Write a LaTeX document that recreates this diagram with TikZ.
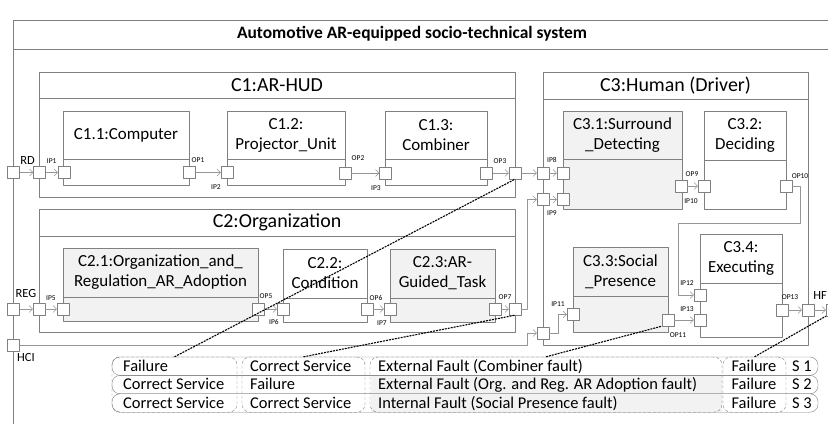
\documentclass[tikz,border=0pt]{standalone}
\usepackage{fontspec}
\setmainfont{Carlito}
\usepackage{tikz}
\usetikzlibrary{arrows.meta}
\definecolor{boxgray}{RGB}{128,128,128}
\definecolor{wiregray}{RGB}{150,150,150}
\definecolor{shadegray}{RGB}{242,242,242}

\begin{document}
\begin{tikzpicture}[>={Straight Barb[length=3.5bp,width=7bp]},line join=bevel,
  big/.style={draw=boxgray,inner sep=0pt,font=\fontsize{20}{22}\selectfont},
  comp/.style={draw=boxgray,inner sep=0pt,align=center,font=\fontsize{17}{20}\selectfont},
  body/.style={draw=boxgray,inner sep=0pt},
  shaded/.style={fill=shadegray},
  port/.style={draw=boxgray,fill=white,minimum size=12bp,inner sep=0pt},
  plbl/.style={inner sep=0pt,font=\fontsize{7.5}{8}\selectfont},
  sig/.style={inner sep=0pt,font=\fontsize{12.5}{14}\selectfont},
  wire/.style={wiregray,->},
  fault/.style={black,dash pattern=on 2bp off 1bp,line width=1.1bp},
  row/.style={draw=boxgray,rounded corners=8bp,inner sep=0pt},
  col/.style={draw=boxgray,dash pattern=on 3bp off 2bp,rounded corners=8bp,inner sep=0pt},
  cell/.style={inner sep=0pt,font=\fontsize{16.5}{18}\selectfont},
]
\useasboundingbox (0bp,0bp) rectangle (828bp,424bp);
%% system frame
\draw [boxgray] (13bp,-5bp) -- (13bp,404bp) -- (840bp,404bp);
\draw [boxgray] (13bp,375bp) -- (840bp,375bp);
\node (node_sys) at (412bp,390bp) [font=\bfseries\fontsize{17.5}{20}\selectfont] {Automotive AR-equipped socio-technical system};
%% C1
\node (node_c1) at (277bp,339bp) [big,minimum width=476bp,minimum height=26bp] {C1:AR-HUD};
\node (node_c1_body) at (277bp,276.5bp) [body,minimum width=476bp,minimum height=99bp] {};
\node (node_c11) at (126bp,289bp) [comp,minimum width=126bp,minimum height=48bp] {C1.1:Computer};
\node (node_c11_body) at (126bp,252bp) [body,minimum width=126bp,minimum height=26bp] {};
\node (node_c12) at (286bp,289bp) [comp,minimum width=118bp,minimum height=48bp] {C1.2:\\Projector\_Unit};
\node (node_c12_body) at (286bp,252bp) [body,minimum width=118bp,minimum height=26bp] {};
\node (node_c13) at (436bp,289bp) [comp,minimum width=102bp,minimum height=48bp] {C1.3:\\Combiner};
\node (node_c13_body) at (436bp,252bp) [body,minimum width=102bp,minimum height=26bp] {};
%% C2
\node (node_c2) at (277bp,201.5bp) [big,minimum width=476bp,minimum height=27bp] {C2:Organization};
\node (node_c2_body) at (277bp,140bp) [body,minimum width=476bp,minimum height=96bp] {};
\node (node_c21) at (160.5bp,151.5bp) [comp,shaded,minimum width=195bp,minimum height=49bp] {C2.1:Organization\_and\_\\Regulation\_AR\_Adoption};
\node (node_c21_body) at (160.5bp,115bp) [body,shaded,minimum width=195bp,minimum height=24bp] {};
\node (node_c22) at (325bp,150.5bp) [comp,minimum width=84bp,minimum height=49bp] {C2.2:\\Condition};
\node (node_c22_body) at (325bp,114bp) [body,minimum width=84bp,minimum height=24bp] {};
\node (node_c23) at (442.5bp,150.5bp) [comp,shaded,minimum width=105bp,minimum height=49bp] {C2.3:AR-\\Guided\_Task};
\node (node_c23_body) at (442.5bp,114bp) [body,shaded,minimum width=105bp,minimum height=24bp] {};
%% C3
\node (node_c3) at (675.5bp,338.5bp) [big,minimum width=265bp,minimum height=27bp] {C3:Human (Driver)};
\node (node_c3_body) at (675.5bp,202bp) [body,minimum width=265bp,minimum height=246bp] {};
\node (node_c31) at (622.5bp,289bp) [comp,shaded,minimum width=119bp,minimum height=48bp] {C3.1:Surround\\\_Detecting};
\node (node_c31_body) at (622.5bp,240bp) [body,shaded,minimum width=119bp,minimum height=50bp] {};
\node (node_c32) at (745bp,288.5bp) [comp,minimum width=82bp,minimum height=49bp] {C3.2:\\Deciding};
\node (node_c32_body) at (745bp,239.5bp) [body,minimum width=82bp,minimum height=49bp] {};
\node (node_c33) at (620.5bp,152.5bp) [comp,shaded,minimum width=95bp,minimum height=49bp] {C3.3:Social\\\_Presence};
\node (node_c33_body) at (620.5bp,110bp) [body,shaded,minimum width=95bp,minimum height=36bp] {};
\node (node_c34) at (741bp,165.5bp) [comp,minimum width=82bp,minimum height=49bp] {C3.4:\\Executing};
\node (node_c34_body) at (741bp,114bp) [body,minimum width=82bp,minimum height=54bp] {};
%% ports
\node (node_rd) at (13.5bp,251.5bp) [port] {};
\node (node_ip1) at (39.5bp,251.5bp) [port] {};
\node (node_c11_in) at (64bp,251.5bp) [port] {};
\node (node_op1) at (189bp,251.5bp) [port] {};
\node (node_ip2) at (227bp,251.5bp) [port] {};
\node (node_op2) at (345bp,251bp) [port] {};
\node (node_ip3) at (385.5bp,251bp) [port] {};
\node (node_op3) at (486.5bp,251bp) [port] {};
\node (node_c1_out) at (515bp,251bp) [port] {};
\node (node_ip8) at (543bp,251bp) [port] {};
\node (node_c31_in) at (563bp,251bp) [port] {};
\node (node_ip9) at (543bp,224.5bp) [port] {};
\node (node_c31_in2) at (563bp,224.5bp) [port] {};
\node (node_op9) at (681bp,238bp) [port] {};
\node (node_ip10) at (704bp,238bp) [port] {};
\node (node_op10) at (786bp,238bp) [port] {};
\node (node_ip12) at (700bp,129bp) [port] {};
\node (node_ip13) at (700bp,104bp) [port] {};
\node (node_op11) at (668bp,104bp) [port] {};
\node (node_op13) at (782bp,114bp) [port] {};
\node (node_c3_out) at (808bp,114bp) [port] {};
\node (node_hf) at (832bp,114bp) [port] {};
\node (node_ip11) at (573bp,109.5bp) [port] {};
\node (node_c3_in) at (543bp,91bp) [port] {};
\node (node_reg) at (13.5bp,115bp) [port] {};
\node (node_ip5) at (39bp,115bp) [port] {};
\node (node_c21_in) at (63bp,115bp) [port] {};
\node (node_op5) at (258bp,115bp) [port] {};
\node (node_ip6) at (283bp,115bp) [port] {};
\node (node_op6) at (367bp,115bp) [port] {};
\node (node_ip7) at (390bp,115bp) [port] {};
\node (node_op7) at (495bp,115bp) [port] {};
\node (node_c2_out) at (515bp,115bp) [port] {};
\node (node_hci) at (13.5bp,79bp) [port] {};
%% port labels
\node (node_l_rd) at (27.5bp,263bp) [sig] {RD};
\node (node_l_reg) at (26bp,130bp) [sig] {REG};
\node (node_l_hci) at (26bp,66bp) [sig] {HCI};
\node (node_l_hf) at (820bp,128bp) [sig] {HF};
\node (node_l_ip1) at (51.7bp,263bp) [plbl] {IP1};
\node (node_l_op1) at (198bp,264bp) [plbl] {OP1};
\node (node_l_ip2) at (216bp,237bp) [plbl] {IP2};
\node (node_l_op2) at (358bp,266bp) [plbl] {OP2};
\node (node_l_ip3) at (376bp,236bp) [plbl] {IP3};
\node (node_l_op3) at (500bp,263bp) [plbl] {OP3};
\node (node_l_ip8) at (552bp,264bp) [plbl] {IP8};
\node (node_l_ip9) at (552bp,211bp) [plbl] {IP9};
\node (node_l_op9) at (692bp,250bp) [plbl] {OP9};
\node (node_l_ip10) at (691bp,223bp) [plbl] {IP10};
\node (node_l_op10) at (800bp,248bp) [plbl] {OP10};
\node (node_l_ip12) at (687bp,141bp) [plbl] {IP12};
\node (node_l_ip13) at (687bp,115bp) [plbl] {IP13};
\node (node_l_op11) at (678bp,89bp) [plbl] {OP11};
\node (node_l_op13) at (790bp,127bp) [plbl] {OP13};
\node (node_l_ip11) at (558bp,120bp) [plbl] {IP11};
\node (node_l_ip5) at (51bp,126bp) [plbl] {IP5};
\node (node_l_op5) at (266bp,128bp) [plbl] {OP5};
\node (node_l_ip6) at (274bp,102bp) [plbl] {IP6};
\node (node_l_op6) at (376bp,126bp) [plbl] {OP6};
\node (node_l_ip7) at (382bp,101bp) [plbl] {IP7};
\node (node_l_op7) at (505bp,127bp) [plbl] {OP7};
%% wires
\coordinate (node_b1) at (678bp,201bp);
\coordinate (node_b2) at (527bp,91bp);
\draw [wire] (node_rd) -- (node_ip1);
\draw [wire] (node_ip1) -- (node_c11_in);
\draw [wire] (node_op1) -- (node_ip2);
\draw [wire] (node_op2) -- (node_ip3);
\draw [wire] (node_op3) -- (node_c1_out);
\draw [wire] (node_c1_out) -- (node_ip8);
\draw [wire] (node_ip8) -- (node_c31_in);
\draw [wire] (node_c2_out.east) -- ++(6bp,0) |- (node_ip9);
\draw [wire] (node_ip9) -- (node_c31_in2);
\draw [wire] (node_op9) -- (node_ip10);
\draw [wire] (node_op10.east) -- ++(8bp,0) |- (node_b1) |- (node_ip12);
\draw [wire] (node_op11) -- (node_ip13);
\draw [wire] (node_op13) -- (node_c3_out);
\draw [wire] (node_c3_out) -- (node_hf);
\draw [wire] (node_reg) -- (node_ip5);
\draw [wire] (node_ip5) -- (node_c21_in);
\draw [wire] (node_op5) -- (node_ip6);
\draw [wire] (node_op6) -- (node_ip7);
\draw [wire] (node_op7) -- (node_c2_out);
\draw [wire] (node_hci.east) -| (node_b2) -- (node_c3_in);
\draw [wire] (node_c3_in.east) -- ++(9bp,0) |- (node_ip11);
%% scenario table
\node (node_shade) at (546bp,30.2bp) [fill=shadegray,minimum width=351bp,minimum height=36.8bp,inner sep=0pt] {};
\node (node_row1) at (465bp,57.8bp) [row,minimum width=706bp,minimum height=18.4bp] {};
\node (node_row2) at (465bp,39.4bp) [row,minimum width=706bp,minimum height=18.4bp] {};
\node (node_row3) at (465bp,21bp) [row,minimum width=706bp,minimum height=18.4bp] {};
\node (node_col1) at (174.5bp,39.4bp) [col,minimum width=125bp,minimum height=55.2bp] {};
\node (node_col2) at (303.5bp,39.4bp) [col,minimum width=123bp,minimum height=55.2bp] {};
\node (node_col3) at (546bp,39.4bp) [col,minimum width=352bp,minimum height=55.2bp] {};
\node (node_col4) at (754.5bp,39.4bp) [col,minimum width=63bp,minimum height=55.2bp] {};
\node (node_t11) at (123bp,52.5bp) [cell,anchor=base west] {Failure};
\node (node_t12) at (250bp,52.5bp) [cell,anchor=base west] {Correct Service};
\node (node_t13) at (378bp,52.5bp) [cell,anchor=base west] {External Fault (Combiner fault)};
\node (node_t14) at (754bp,52.5bp) [cell,anchor=base] {Failure};
\node (node_t15) at (802bp,52.5bp) [cell,anchor=base] {S 1};
\node (node_t21) at (123bp,34.1bp) [cell,anchor=base west] {Correct Service};
\node (node_t22) at (250bp,34.1bp) [cell,anchor=base west] {Failure};
\node (node_t23) at (378bp,34.1bp) [cell,anchor=base west] {External Fault (Org. and Reg. AR Adoption fault)};
\node (node_t24) at (754bp,34.1bp) [cell,anchor=base] {Failure};
\node (node_t25) at (802bp,34.1bp) [cell,anchor=base] {S 2};
\node (node_t31) at (123bp,15.7bp) [cell,anchor=base west] {Correct Service};
\node (node_t32) at (250bp,15.7bp) [cell,anchor=base west] {Correct Service};
\node (node_t33) at (378bp,15.7bp) [cell,anchor=base west] {Internal Fault (Social Presence fault)};
\node (node_t34) at (754bp,15.7bp) [cell,anchor=base] {Failure};
\node (node_t35) at (802bp,15.7bp) [cell,anchor=base] {S 3};
%% fault links
\draw [fault] (node_col1.north) -- (node_c1_out.south);
\draw [fault] (node_col2.north) -- (node_c2_out.south);
\draw [fault] (node_col3.north) -- (node_op11.south west);
\draw [fault] (node_col4.north) -- (node_hf.south west);
%
\end{tikzpicture}
\end{document}
